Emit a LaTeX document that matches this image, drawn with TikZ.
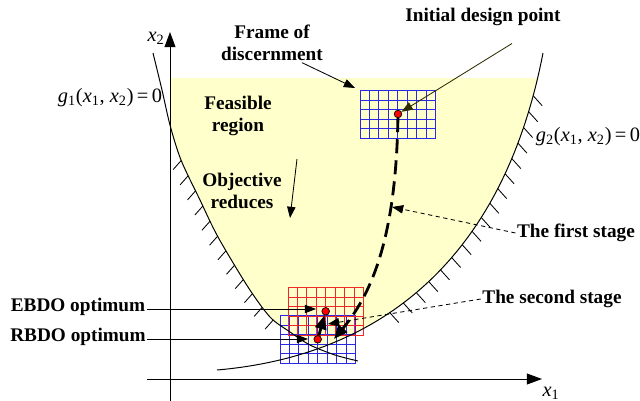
\documentclass[tikz,border=0pt]{standalone}
\usepackage{fontspec}
\setmainfont{Liberation Serif}
\usetikzlibrary{calc, positioning}
\usetikzlibrary{arrows.meta}
\usetikzlibrary{decorations.markings}

\definecolor{feasyellow}{RGB}{255,255,204}
\definecolor{gridblue}{RGB}{40,40,230}
\definecolor{gridred}{RGB}{240,40,40}
\definecolor{darkolive}{RGB}{45,45,0}

\newcommand{\gfun}[1]{\textit{g}\textsubscript{#1}(\textit{x}\textsubscript{1}, \textit{x}\textsubscript{2})\,=\,0}
\newcommand{\gonecurve}{plot[smooth] coordinates {(153,53) (162,90) (170,125) (181,160) (200,200) (218,237) (248,287) (270,317) (290,332) (310,345) (335,355) (358,361)}}
\newcommand{\gtwocurve}{(217,370) .. controls (390,355) and (505,250) .. (543,53)}

\tikzset{
  discgrid/.pic={\draw[line width=0.7pt] (0,0) grid[step=2.3625mm] (75.7,-47.35);},
}

\begin{document}
\begin{tikzpicture}[x=0.025cm, y=-0.025cm,
  lbl/.style={font=\fontsize{13.7}{15.8}\selectfont\bfseries, align=center, inner sep=1pt},
  mth/.style={font=\fontsize{14.5}{16}\selectfont, inner sep=1pt},
  limitcurve/.style={line width=0.7pt},
  pointer/.style={line width=0.6pt, -{Triangle[length=2.8mm,width=2.1mm]}},
  leader/.style={pointer, dash pattern=on 3pt off 2.5pt},
  stagepath/.style={line width=2pt, -{Triangle[length=3.5mm,width=2.8mm]}},
  reddot/.style={circle, draw, fill=red, line width=0.5pt, minimum size=1.9mm, inner sep=0pt},
  axisline/.style={line width=0.7pt, -{Triangle[length=3.75mm,width=2.7mm]}}]
\useasboundingbox (0,0) rectangle (640,401);

% feasible region
\begin{scope}
  \clip \gonecurve -- (640,361) -- (640,0) -- (153,0) -- cycle;
  \clip \gtwocurve -- (543,0) -- (0,0) -- (0,370) -- cycle;
  \fill[feasyellow] (170,78) rectangle (640,401);
\end{scope}

% frames of discernment
\pic[gridblue] at (280,363.25) {discgrid};
\pic[gridred] at (288,335.25) {discgrid};
\pic[gridblue] at (360,138.25) {discgrid};

% limit state curves
\draw[limitcurve, postaction={decorate}, decoration={markings,
  mark=between positions 2.78cm and 7.5cm step 0.42cm with
  {\pgftransformresetnontranslations \draw[line width=0.6pt] (0,0) -- (-8,9);}}] \gonecurve;
\draw[limitcurve, postaction={decorate}, decoration={markings,
  mark=between positions 4.6cm and 11.25cm step 0.415cm with
  {\pgftransformresetnontranslations \draw[line width=0.6pt] (0,0) -- (9,10);}}] \gtwocurve;

% axes
\draw[axisline] (147,379) -- (542,379);
\draw[axisline] (170,401) -- (170,32);
\node[mth] (xone) at (551,393) {\textit{x}\textsubscript{1}};
\node[mth] (xtwo) at (156,38) {\textit{x}\textsubscript{2}};

% design points
\node[reddot] (xinit) at (398,114) {};
\node[reddot] (xebdo) at (325.7,311.3) {};
\node[reddot] (xrbdo) at (317.7,339.3) {};
\coordinate (stageone) at (334,339);

\draw[stagepath, dash pattern=on 10pt off 5pt] (xinit) .. controls (396,230) and (375,290) .. (stageone);
\draw[stagepath] (xrbdo) -- (xebdo);

% labels
\node[lbl] (init) at (483,17) {Initial design point};
\draw[pointer, darkolive] ([xshift=7.25mm, yshift=-4mm]init.south) -- (xinit);

\node[lbl] (fod) at (272,43) {Frame of\\discernment};
\coordinate (fodpt) at (355,88);
\draw[pointer] ([xshift=7.5mm]fod.south) -- (fodpt);

\node[lbl] (feas) at (238,116) {Feasible\\region};
\node[lbl] (obj) at (242,191) {Objective\\reduces};
\coordinate (objtop) at (297,159);
\coordinate (objtip) at (290,218);
\draw[pointer] (objtop) -- (objtip);

\node[mth] (gone) at (110,98) {\gfun{1}};
\node[mth] (gtwo) at (588,137) {\gfun{2}};

\node[lbl] (first) at (576,233) {The first stage};
\coordinate (firstpt) at (392,207);
\draw[leader] (first.west) -- (firstpt);

\node[lbl] (second) at (552,299) {The second stage};
\coordinate (secondpt) at (328,324);
\draw[leader] (second.west) -- (secondpt);

\node[lbl] (ebdo) at (78,307) {EBDO optimum};
\coordinate (ebdopt) at (316,309);
\draw[pointer] (ebdo.east |- ebdopt) -- (ebdopt);

\node[lbl] (rbdo) at (78,337) {RBDO optimum};
\coordinate (rbdopt) at (308,339);
\draw[pointer] (rbdo.east |- rbdopt) -- (rbdopt);
\end{tikzpicture}
\end{document}
